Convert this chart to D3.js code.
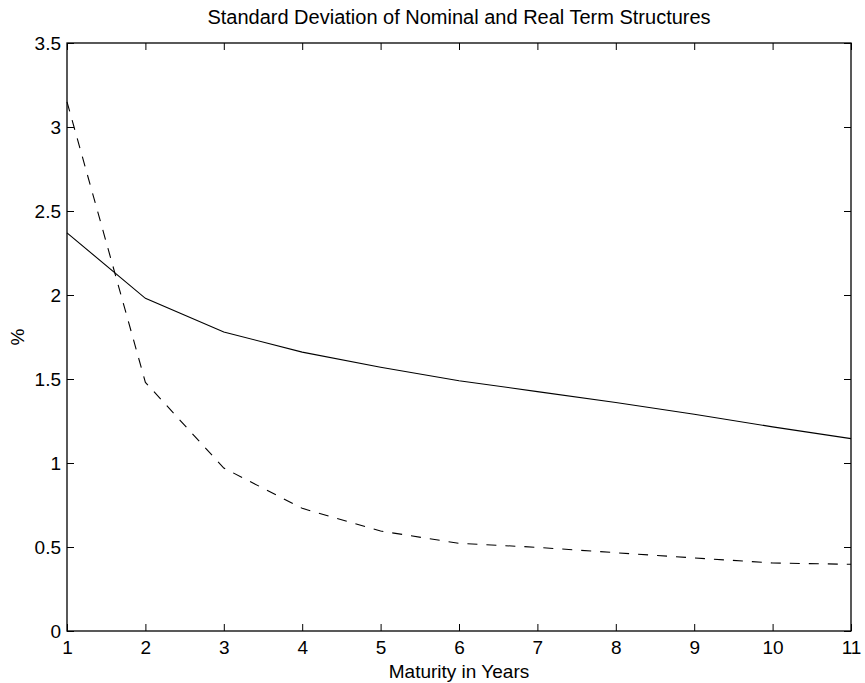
<!DOCTYPE html>
<html><head><meta charset="utf-8">
<script src="https://d3js.org/d3.v7.min.js"></script>
<style>body{margin:0;background:#fff}svg{display:block}text{font-family:"Liberation Sans",Arial,sans-serif}</style>
</head><body><div id="c"></div>
<script>
const maturities = [1,2,3,4,5,6,7,8,9,10,11];
const nominalSD = [2.37,1.98,1.78,1.66,1.57,1.49,1.425,1.36,1.29,1.215,1.145];
const realSD = [3.15,1.48,0.97,0.73,0.595,0.522,0.498,0.466,0.435,0.405,0.397];
const xTicks = [1,2,3,4,5,6,7,8,9,10,11];
const yTicks = [0,0.5,1,1.5,2,2.5,3,3.5];
const yTickLabels = ["0","0.5","1","1.5","2","2.5","3","3.5"];

const W=865,H=683;
const m={l:67,r:14,t:43,b:52};
const svg=d3.select("#c").append("svg").attr("width",W).attr("height",H);
const x=d3.scaleLinear().domain([1,11]).range([m.l,W-m.r]);
const y=d3.scaleLinear().domain([0,3.5]).range([H-m.b,m.t]);
const fs=19,tl=7;
const g=svg.append("g");
g.append("g").attr("transform",`translate(0,${H-m.b})`)
 .call(d3.axisBottom(x).tickValues(xTicks).tickSize(-tl).tickPadding(10).tickFormat(d3.format("d")))
 .call(a=>{a.select(".domain").remove();a.selectAll("text").attr("font-size",fs).attr("fill","#000");a.selectAll("line").attr("stroke","#000");});
g.append("g").attr("transform",`translate(0,${m.t})`)
 .call(d3.axisTop(x).tickValues(xTicks).tickSize(-tl).tickFormat(""))
 .call(a=>{a.select(".domain").remove();a.selectAll("line").attr("stroke","#000");});
g.append("g").attr("transform",`translate(${m.l},0)`)
 .call(d3.axisLeft(y).tickValues(yTicks).tickSize(-tl).tickPadding(6).tickFormat((d,i)=>yTickLabels[i]))
 .call(a=>{a.select(".domain").remove();a.selectAll("text").attr("font-size",fs).attr("fill","#000");a.selectAll("line").attr("stroke","#000");});
g.append("g").attr("transform",`translate(${W-m.r},0)`)
 .call(d3.axisRight(y).tickValues(yTicks).tickSize(-tl).tickFormat(""))
 .call(a=>{a.select(".domain").remove();a.selectAll("line").attr("stroke","#000");});
g.append("rect").attr("x",m.l).attr("y",m.t).attr("width",W-m.l-m.r).attr("height",H-m.t-m.b)
 .attr("fill","none").attr("stroke","#000").attr("stroke-width",1.3);

const line=d3.line().x((d,i)=>x(maturities[i])).y(d=>y(d));
svg.append("path").datum(nominalSD).attr("d",line).attr("fill","none").attr("stroke","#000").attr("stroke-width",1.1);
svg.append("path").datum(realSD).attr("d",line).attr("fill","none").attr("stroke","#000").attr("stroke-width",1.1).attr("stroke-dasharray","10,9");

svg.append("text").attr("x",(m.l+W-m.r)/2).attr("y",24).attr("text-anchor","middle").attr("font-size",20).text("Standard Deviation of Nominal and Real Term Structures");
svg.append("text").attr("x",(m.l+W-m.r)/2).attr("y",678).attr("text-anchor","middle").attr("font-size",19).text("Maturity in Years");
svg.append("text").attr("transform",`translate(24,${(m.t+H-m.b)/2}) rotate(-90)`).attr("text-anchor","middle").attr("font-size",19).text("%");
</script></body></html>
